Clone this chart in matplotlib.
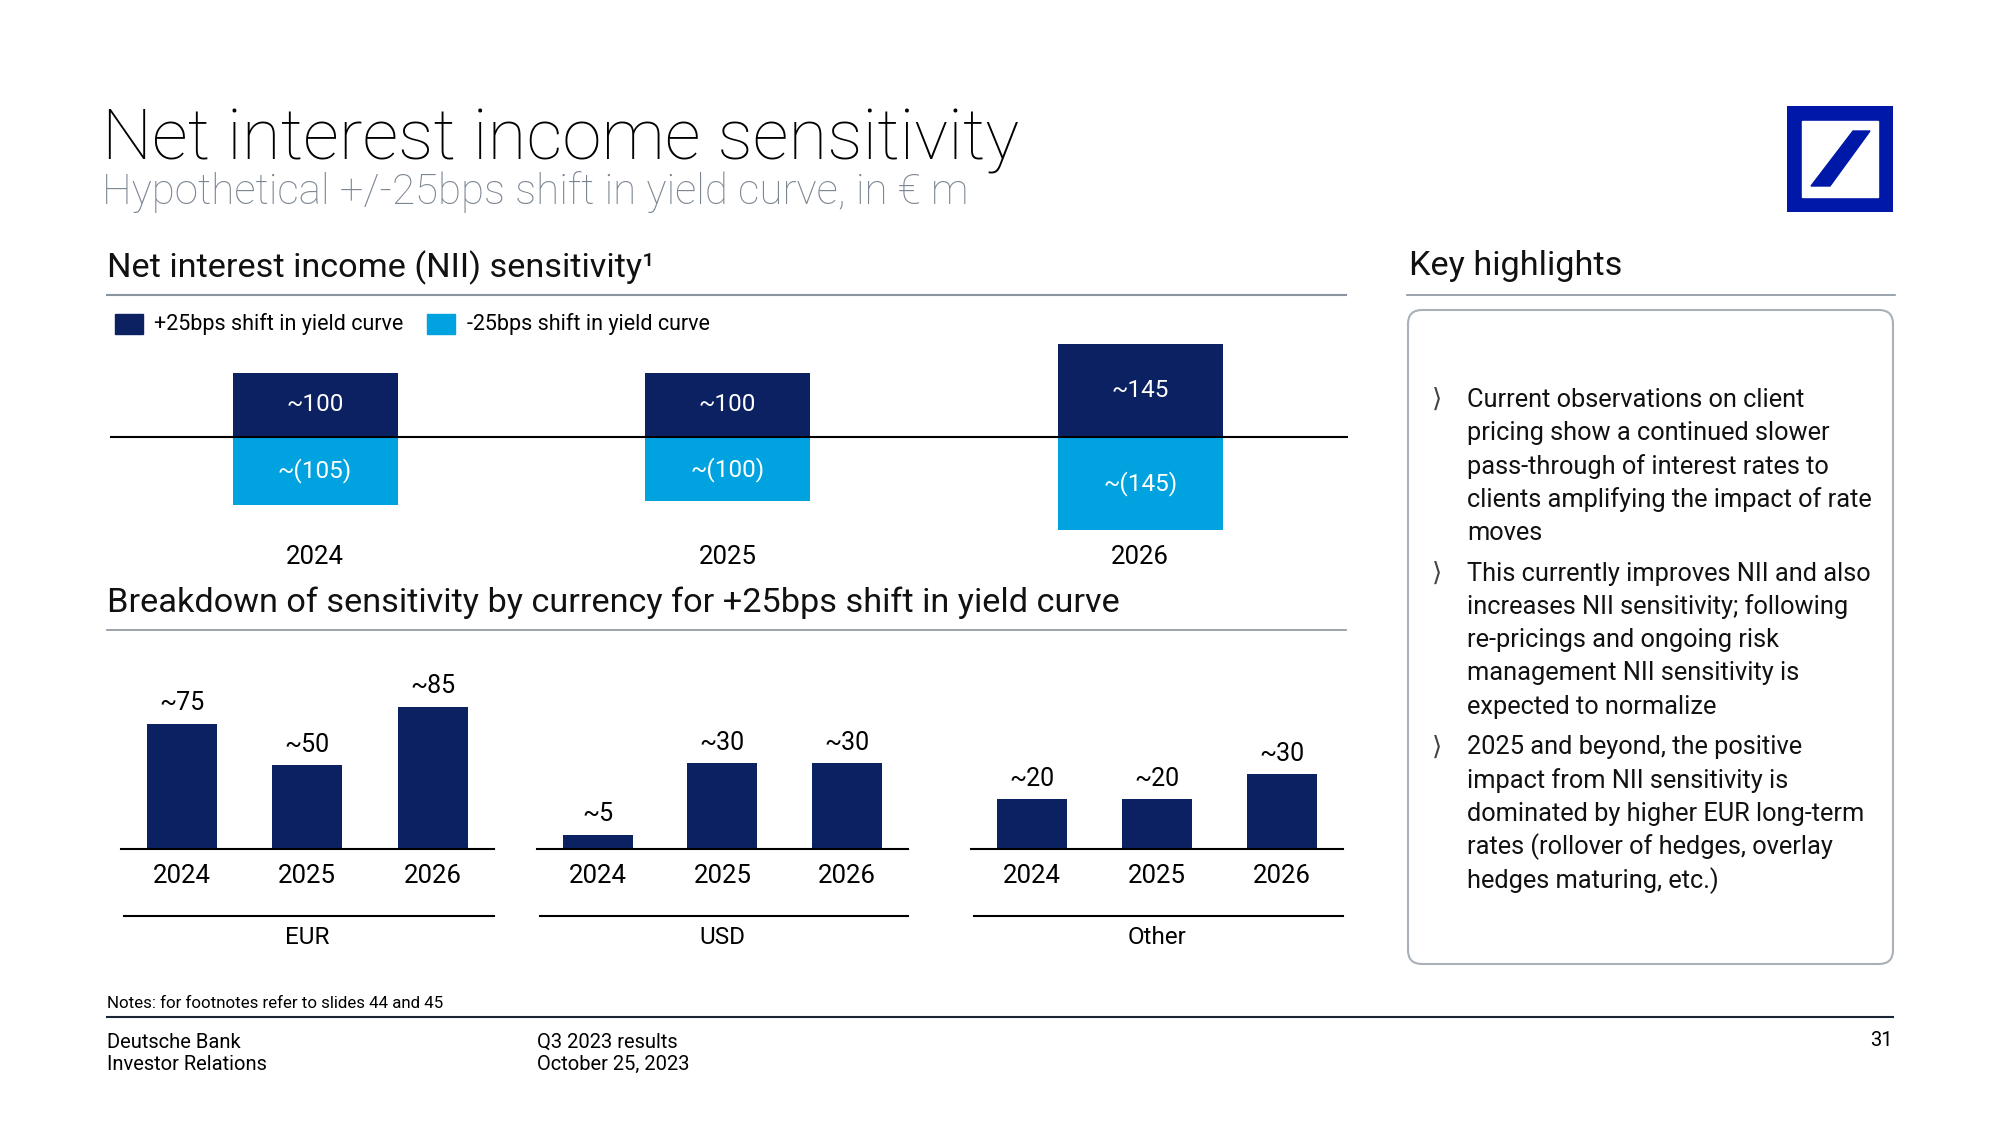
import matplotlib
matplotlib.use('Agg')
import matplotlib.pyplot as plt
from matplotlib.patches import FancyBboxPatch, Rectangle, Polygon

plt.rcParams['font.family'] = ['Roboto', 'DejaVu Sans']

W, H = 2000, 1125
NAVY = '#0b2162'
CYAN = '#00a3e0'
GREY = '#8a949f'
LOGO = '#0018a8'

# data
years = ['2024', '2025', '2026']
up_25 = [100, 100, 145]
down_25 = [-105, -100, -145]

currencies = ['EUR', 'USD', 'Other']
eur = [75, 50, 85]
usd = [5, 30, 30]
other = [20, 20, 30]
# every currency panel on the slide has its own scale
panel_ymax = [113, 66, 76]

highlights = [
    ['Current observations on client', 'pricing show a continued slower',
     'pass-through of interest rates to', 'clients amplifying the impact of rate', 'moves'],
    ['This currently improves NII and also', 'increases NII sensitivity; following',
     're-pricings and ongoing risk', 'management NII sensitivity is', 'expected to normalize'],
    ['2025 and beyond, the positive', 'impact from NII sensitivity is',
     'dominated by higher EUR long-term', 'rates (rollover of hedges, overlay',
     'hedges maturing, etc.)'],
]


def rect(x0, y0, x1, y1):
    # pixel box (top-left origin) -> figure fraction
    return [x0 / W, 1 - y1 / H, (x1 - x0) / W, (y1 - y0) / H]


def fy(py):
    return 1 - py / H


fig = plt.figure(figsize=(20, 11.25), dpi=100)

# titles
fig.text(102 / W, fy(159), 'Net interest income sensitivity', fontsize=51,
         fontweight='light', color='black', va='baseline')
fig.text(102 / W, fy(204), 'Hypothetical +/-25bps shift in yield curve, in \u20ac m',
         fontsize=30.3, fontweight='light', color='#7a8592', va='baseline')

fig.text(107 / W, fy(268), 'Net interest income (NII) sensitivity\u00b9', fontsize=24.7,
         color='#111111', va='center')
fig.add_artist(plt.Line2D([107 / W, 1346 / W], [fy(295), fy(295)], color=GREY, lw=1.5))

fig.text(107 / W, fy(603), 'Breakdown of sensitivity by currency for +25bps shift in yield curve',
         fontsize=24.7, color='#111111', va='center')
fig.add_artist(plt.Line2D([107 / W, 1346 / W], [fy(630), fy(630)], color=GREY, lw=1.2))

# legend
fig.add_artist(Rectangle((115 / W, fy(334)), 28 / W, 20 / H, color=NAVY, transform=fig.transFigure))
fig.text(154 / W, fy(324), '+25bps shift in yield curve', fontsize=15.5, va='center')
fig.add_artist(Rectangle((427 / W, fy(334)), 28 / W, 20 / H, color=CYAN, transform=fig.transFigure))
fig.text(467 / W, fy(324), '-25bps shift in yield curve', fontsize=15.5, va='center')

# top chart
ax = fig.add_axes(rect(110, 331, 1348, 541))
x = range(len(years))
ax.bar(x, up_25, width=0.4, color=NAVY)
ax.bar(x, down_25, width=0.4, color=CYAN)
for i, (u, d) in enumerate(zip(up_25, down_25)):
    ax.text(i, u / 2, f'~{u}', ha='center', va='center', color='white', fontsize=17.5)
    ax.text(i, d / 2, f'~({abs(d)})', ha='center', va='center', color='white', fontsize=17.5)
ax.axhline(0, color='black', lw=1.5)
ax.set_xlim(-0.497, 2.504)
ax.set_ylim(-161.5, 164.6)
ax.set_xticks(list(x))
ax.set_xticklabels(years, fontsize=18.5)
ax.set_yticks([])
ax.tick_params(axis='x', length=0, pad=3)
for s in ax.spines.values():
    s.set_visible(False)

# currency panels
panels = [(121, 494), (537, 908), (971, 1343)]
for (x0, x1), name, vals, ymax in zip(panels, currencies, [eur, usd, other], panel_ymax):
    bx = fig.add_axes(rect(x0, 660, x1, 849))
    bx.bar(range(3), vals, width=0.56, color=NAVY)
    for i, v in enumerate(vals):
        bx.annotate(f'~{v}', (i, v), xytext=(0, 6), textcoords='offset points',
                    ha='center', va='bottom', fontsize=18)
    bx.set_xlim(-0.488, 2.49)
    bx.set_ylim(0, ymax)
    bx.set_xticks(range(3))
    bx.set_xticklabels(years, fontsize=18.5)
    bx.set_yticks([])
    bx.tick_params(axis='x', length=0, pad=11)
    for s in ['top', 'left', 'right']:
        bx.spines[s].set_visible(False)
    bx.spines['bottom'].set_linewidth(1.5)
    gy = (849 - 916) / 189
    bx.plot([0.008, 1], [gy, gy], color='black', lw=1.5, transform=bx.transAxes, clip_on=False)
    bx.text(0.5, (849 - 937) / 189, name, transform=bx.transAxes, ha='center', va='center',
            fontsize=17.5)

# key highlights
fig.text(1409 / W, fy(266), 'Key highlights', fontsize=24.7, color='#111111', va='center')
fig.add_artist(plt.Line2D([1407 / W, 1895 / W], [fy(295), fy(295)], color=GREY, lw=1.2))
box = FancyBboxPatch((1408, H - 964), 485, 654, boxstyle='round,pad=0,rounding_size=14',
                     fc='white', ec='#a9b0b8', lw=1.5, transform=None)
fig.add_artist(box)

y = 400
for para in highlights:
    fig.text(1432 / W, fy(y), '\u27e9', fontsize=19, color='#444444', va='center',
             family=['DejaVu Sans'])
    for line in para:
        fig.text(1467 / W, fy(y), line, fontsize=18.3, color='#111111', va='center')
        y += 33.2
    y += 7.7

# logo
lg = fig.add_axes(rect(1787, 106, 1893, 212))
lg.set_xlim(0, 106)
lg.set_ylim(106, 0)
lg.axis('off')
lg.add_patch(Rectangle((0, 0), 106, 106, color=LOGO))
lg.add_patch(Rectangle((15, 15), 76, 76, color='white'))
lg.add_patch(Polygon([(24, 80), (43, 80), (83, 25), (66, 25)], closed=True, color=LOGO))

# footer
fig.text(107 / W, fy(1003), 'Notes: for footnotes refer to slides 44 and 45', fontsize=12.2,
         va='center')
fig.add_artist(plt.Line2D([107 / W, 1893 / W], [fy(1017), fy(1017)], color='#1c2533', lw=1.5))
fig.text(107 / W, fy(1042), 'Deutsche Bank', fontsize=14.5, va='center')
fig.text(107 / W, fy(1064), 'Investor Relations', fontsize=14.5, va='center')
fig.text(537 / W, fy(1042), 'Q3 2023 results', fontsize=14.5, va='center')
fig.text(537 / W, fy(1064), 'October 25, 2023', fontsize=14.5, va='center')
fig.text(1893 / W, fy(1040), '31', fontsize=14.5, va='center', ha='right')

fig.savefig('out.png', dpi=100, facecolor='white')
